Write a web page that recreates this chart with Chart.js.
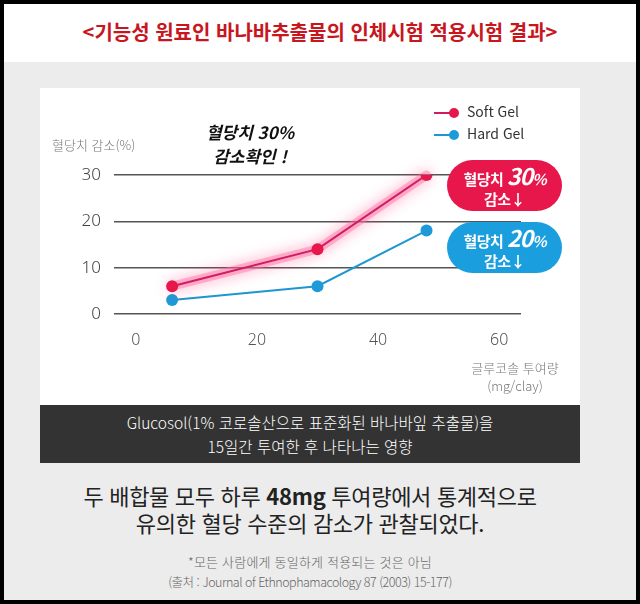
<!DOCTYPE html>
<html lang="ko">
<head>
    <meta charset="UTF-8">
    <title>바나바추출물 인체시험 결과</title>
    <script src="https://cdn.jsdelivr.net/npm/chart.js"></script>
    <style>
        body {
            margin: 0;
            width: 640px;
            height: 604px;
            background: #000;
            font-family: "Noto Sans CJK KR", "Noto Sans", sans-serif;
            overflow: hidden;
        }

        .page {
            position: absolute;
            left: 4px;
            top: 4px;
            width: 632px;
            height: 596px;
            background: #ececec;
        }

        .top {
            position: absolute;
            left: 0;
            top: 0;
            width: 632px;
            height: 58px;
            background: #fff;
        }

        .title {
            position: absolute;
            left: 0;
            width: 640px;
            top: 17px;
            text-align: center;
            color: #c8161e;
            font-size: 20px;
            font-weight: 700;
            letter-spacing: 0;
        }

        .panel {
            position: absolute;
            left: 40px;
            top: 88px;
            width: 540px;
            height: 317px;
            background: #fff;
        }

        canvas {
            position: absolute;
            left: 40px;
            top: 88px;
        }

        .abs {
            position: absolute;
            white-space: nowrap;
        }

        .ytitle {
            left: 52px;
            top: 135px;
            font-size: 13px;
            color: #777;
            font-weight: 300;
        }

        .xtitle {
            left: 455px;
            top: 359px;
            width: 120px;
            text-align: center;
            font-size: 13px;
            line-height: 18px;
            color: #777;
            font-weight: 300;
        }

        .note {
            left: 170px;
            top: 120px;
            width: 160px;
            text-align: center;
            font-size: 17px;
            line-height: 24px;
            font-weight: 700;
            font-style: italic;
            color: #111;
        }

        .legend {
            left: 434px;
            top: 100px;
            font-size: 14px;
            line-height: 22px;
            color: #333;
        }

        .legend span.mk {
            display: inline-block;
            position: relative;
            width: 26px;
            height: 10px;
            margin-right: 7px;
            vertical-align: -1px;
        }

        .legend span.mk i {
            position: absolute;
            left: 0;
            top: 4px;
            width: 20px;
            height: 1.5px;
        }

        .legend span.mk b {
            position: absolute;
            right: 1px;
            top: 0;
            width: 10px;
            height: 10px;
            border-radius: 50%;
        }

        .badge {
            left: 447px;
            width: 115px;
            height: 51px;
            border-radius: 26px;
            color: #fff;
            text-align: center;
            font-weight: 700;
            font-size: 15px;
            line-height: 20px;
            padding-top: 5px;
            box-sizing: border-box;
            letter-spacing: -0.5px;
        }

        .badge em {
            font-size: 23px;
            font-style: italic;
            letter-spacing: -1px;
        }

        .badge em small {
            font-size: 15px;
        }

        .band {
            position: absolute;
            left: 40px;
            top: 405px;
            width: 540px;
            height: 58px;
            background: #333;
            color: #fff;
            text-align: center;
            font-size: 15.5px;
            line-height: 24px;
            font-weight: 300;
            padding-top: 5px;
            box-sizing: border-box;
        }

        .summary {
            left: 40px;
            width: 540px;
            top: 482px;
            text-align: center;
            font-size: 22px;
            line-height: 27px;
            color: #222;
            letter-spacing: -0.3px;
        }

        .source {
            left: 40px;
            width: 540px;
            top: 551px;
            text-align: center;
            line-height: 19px;
            color: #666;
            font-weight: 300;
        }

        .source .l1 {
            font-size: 13px;
            letter-spacing: 0.2px;
        }

        .source .l2 {
            font-size: 12.5px;
            letter-spacing: -0.5px;
        }
    </style>
</head>
<body>
    <div class="page">
        <div class="top"></div>
    </div>
    <div class="abs title">&lt;기능성 원료인 바나바추출물의 인체시험 적용시험 결과&gt;</div>

    <div class="panel"></div>
    <canvas id="grafico" width="540" height="317"></canvas>

    <div class="abs ytitle">혈당치 감소(%)</div>
    <div class="abs xtitle">글루코솔 투여량<br>(mg/clay)</div>
    <div class="abs note">혈당치 30%<br>감소확인 !</div>
    <div class="abs legend" id="leyenda"></div>

    <div class="abs badge" style="top:160px; background:#e8174b;">혈당치 <em>30<small>%</small></em><br>감소↓</div>
    <div class="abs badge" style="top:222px; background:#1a9ede;">혈당치 <em>20<small>%</small></em><br>감소↓</div>

    <div class="band">Glucosol(1% 코로솔산으로 표준화된 바나바잎 추출물)을<br>15일간 투여한 후 나타나는 영향</div>

    <div class="abs summary">두 배합물 모두 하루 <b>48mg</b> 투여량에서 통계적으로<br>유의한 혈당 수준의 감소가 관찰되었다.</div>
    <div class="abs source"><span class="l1">*모든 사람에게 동일하게 적용되는 것은 아님</span><br><span class="l2">(출처 : Journal of Ethnophamacology 87 (2003) 15-177)</span></div>

    <script>
        // datos
        const dosis = [6, 30, 48];
        const softGel = [6, 14, 30];
        const hardGel = [3, 6, 18];
        const xTicks = [0, 20, 40, 60];
        const yTicks = [0, 10, 20, 30];
        const series = ['Soft Gel', 'Hard Gel'];
        const colores = ['#e8174b', '#1e9ad8'];
        const lineas = ['#d01c66', '#1e96d2'];

        // leyenda
        document.getElementById('leyenda').innerHTML = series.map((s, i) =>
            '<div><span class="mk"><i style="background:' + lineas[i] + '"></i><b style="background:' + colores[i] + '"></b></span>' + s + '</div>'
        ).join('');

        // halo rosa detras de la linea Soft Gel
        const brillo = {
            id: 'brillo',
            beforeDatasetDraw(chart, args) {
                if (args.index !== 0) return;
                const pts = chart.getDatasetMeta(0).data;
                const c = chart.ctx;
                c.save();
                c.lineJoin = 'round';
                c.lineCap = 'round';
                c.beginPath();
                pts.forEach((p, i) => i ? c.lineTo(p.x, p.y) : c.moveTo(p.x, p.y));
                c.shadowColor = 'rgba(255, 50, 120, 0.9)';
                c.shadowBlur = 14;
                c.strokeStyle = 'rgba(255, 110, 160, 0.45)';
                c.lineWidth = 9;
                c.stroke();
                c.restore();
            }
        };

        const ctx = document.getElementById('grafico').getContext('2d');
        new Chart(ctx, {
            type: 'line',
            data: {
                datasets: [
                    {
                        label: series[0],
                        data: dosis.map((d, i) => ({ x: d, y: softGel[i] })),
                        borderColor: lineas[0],
                        backgroundColor: colores[0],
                        pointBackgroundColor: colores[0],
                        pointBorderWidth: 0,
                        pointRadius: 6,
                        borderWidth: 2,
                        tension: 0
                    },
                    {
                        label: series[1],
                        data: dosis.map((d, i) => ({ x: d, y: hardGel[i] })),
                        borderColor: lineas[1],
                        backgroundColor: colores[1],
                        pointBackgroundColor: colores[1],
                        pointBorderWidth: 0,
                        pointRadius: 6,
                        borderWidth: 2,
                        tension: 0
                    }
                ]
            },
            plugins: [brillo],
            options: {
                responsive: false,
                animation: false,
                layout: {
                    padding: { left: 0, right: 59, top: 87, bottom: 51 }
                },
                plugins: {
                    legend: { display: false },
                    tooltip: { enabled: false }
                },
                scales: {
                    x: {
                        type: 'linear',
                        min: -3.6,
                        max: 63.6,
                        afterBuildTicks: s => { s.ticks = xTicks.map(v => ({ value: v })); },
                        afterFit: s => { s.height = 40; },
                        grid: { display: false, drawTicks: false },
                        border: { display: false },
                        ticks: {
                            padding: 17,
                            color: '#555',
                            font: { family: 'Noto Sans', size: 16, weight: 300 }
                        }
                    },
                    y: {
                        min: 0,
                        max: 30,
                        afterBuildTicks: s => { s.ticks = yTicks.map(v => ({ value: v })); },
                        afterFit: s => { s.width = 74; },
                        grid: { color: '#555', lineWidth: 1.5, drawTicks: false },
                        border: { display: false },
                        ticks: {
                            padding: 13,
                            color: '#444',
                            font: { family: 'Noto Sans', size: 17, weight: 300 }
                        }
                    }
                }
            }
        });
    </script>
